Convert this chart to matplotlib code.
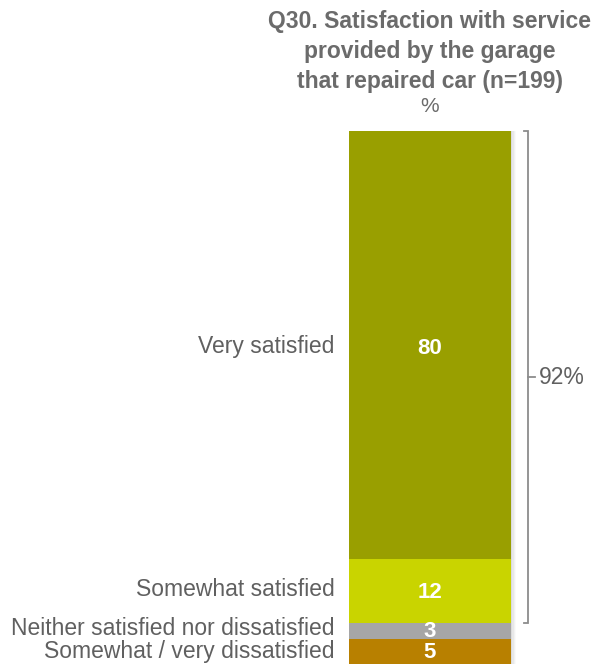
import matplotlib
matplotlib.use("Agg")
import matplotlib.pyplot as plt
import numpy as np

plt.rcParams['font.family'] = ['Liberation Sans', 'DejaVu Sans']

# data, bottom to top of the stacked bar
categories = ["Somewhat / very dissatisfied",
              "Neither satisfied nor dissatisfied",
              "Somewhat satisfied",
              "Very satisfied"]
values = [5, 3, 12, 80]
colors = ["#b88000", "#a6a6a6", "#c9d400", "#999f00"]
net_label = "92%"
net_value = 12 + 80
title_lines = ["Q30. Satisfaction with service",
               "provided by the garage",
               "that repaired car (n=199)"]

fig = plt.figure(figsize=(5.92, 6.64), dpi=100)
ax = fig.add_axes([0, 0, 1, 1])
ax.set_xlim(-2.154, 1.5)
ax.set_ylim(0.37, 124.49)
ax.axis("off")

bottoms = np.concatenate([[0], np.cumsum(values)[:-1]])

# soft shadow to the right of the bar
for i, a in enumerate([0.14, 0.09, 0.05, 0.02]):
    ax.bar(1.0 + i * 0.008, sum(values), width=0.008, bottom=0, align="edge",
           color="black", alpha=a, linewidth=0)

ax.bar(np.zeros(len(values)), values, width=1.0, bottom=bottoms, align="edge",
       color=colors, linewidth=0)

value_dy = [-5, -6, -7, -9]
label_dy = [-5, -4, -5, -8]
for v, b, c, vd, ld in zip(values, bottoms, categories, value_dy, label_dy):
    ax.annotate(str(v), (0.5, b + v / 2), xytext=(0, vd), textcoords="offset pixels",
                ha="center", va="baseline", color="white", fontsize=16, fontweight="bold")
    ax.annotate(c, (-0.09, b + v / 2), xytext=(0, ld), textcoords="offset pixels",
                ha="right", va="baseline", color="#606060", fontsize=16.5)

# bracket for net satisfied
top = sum(values)
low = top - net_value
bx = 1.105
ax.plot([1.08, bx, bx, 1.08], [top, top, low, low], color="#8c8c8c", lw=1.3,
        solid_joinstyle="miter")
mid = (top + low) / 2
ax.plot([bx, 1.15], [mid, mid], color="#8c8c8c", lw=1.3)
ax.annotate(net_label, (1.17, mid), xytext=(0, -7), textcoords="offset pixels",
            ha="left", va="baseline", color="#606060", fontsize=16.5)

for i, line in enumerate(title_lines):
    fig.text(0.726, 0.967 - i * 0.0452, line, ha="center", va="center",
             color="#6b6b6b", fontsize=16.5, fontweight="bold")
fig.text(0.726, 0.840, "%", ha="center", va="center", color="#6b6b6b", fontsize=15)

fig.savefig("out.png", dpi=100)
